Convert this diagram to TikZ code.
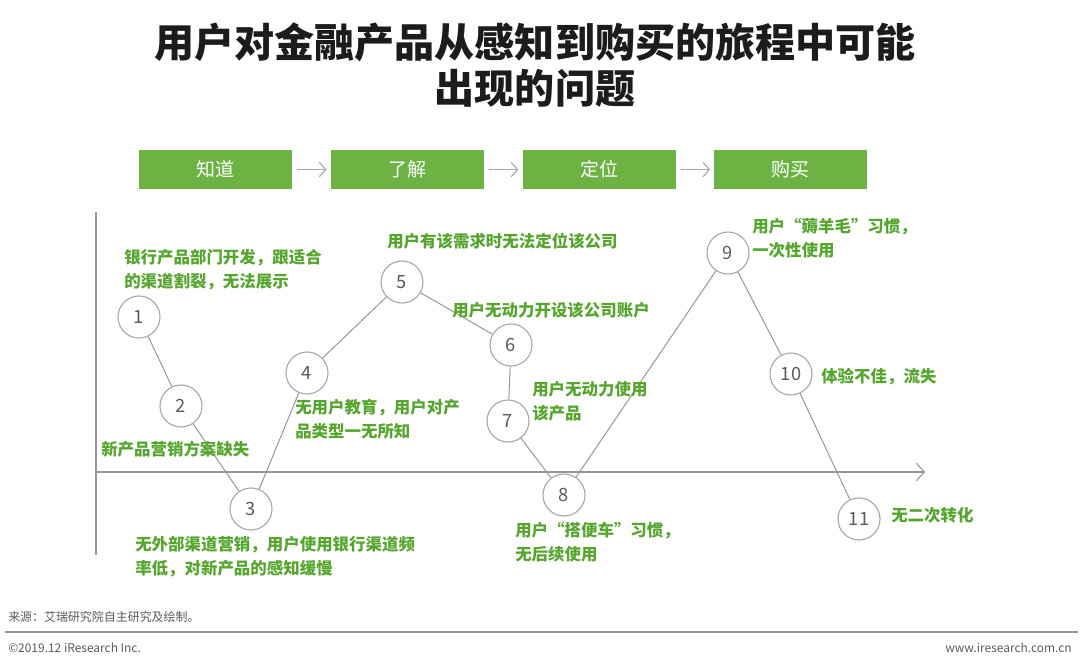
\documentclass[tikz,border=0pt]{standalone}
\usepackage{fontspec}
\setmainfont{Noto Sans CJK SC}
\usetikzlibrary{arrows.meta,positioning}
\definecolor{stageGreen}{RGB}{108,179,68}
\definecolor{noteGreen}{RGB}{86,165,46}
\definecolor{softLine}{RGB}{168,168,168}
\definecolor{axisLine}{RGB}{150,150,150}
\definecolor{mutedInk}{RGB}{90,90,90}
\definecolor{titleInk}{RGB}{28,28,28}
\tikzset{
  stagebox/.style={fill=stageGreen, text=white, minimum width=3.825cm, minimum height=0.975cm, inner sep=0pt, font=\fontsize{13.5}{16}\selectfont},
  stopcircle/.style={circle, draw=softLine, fill=white, line width=0.8pt, minimum size=1.05cm, inner sep=0pt, text=mutedInk, font=\fontsize{13}{15}\selectfont},
  note/.style={anchor=north west, inner sep=0pt, align=left, text=noteGreen, font=\fontsize{11.7}{17}\selectfont\bfseries},
  stagearrow/.style={-{Straight Barb[length=1.6mm,width=3.6mm]}, draw=softLine, line width=0.8pt, shorten <=0.12cm, shorten >=0.1cm},
  pathline/.style={draw=axisLine, line width=0.7pt},
  axis/.style={draw=axisLine, line width=0.8pt}
}
\begin{document}
\begin{tikzpicture}[x=0.025cm, y=-0.025cm]
  \useasboundingbox (0,0) rectangle (1080,664);
  % title
  \node[align=center, text=titleInk, font=\fontsize{28.5}{33}\selectfont\bfseries] (title) at (535,65)
    {用户对金融产品从感知到购买的旅程中可能\\出现的问题};
  % stages
  \node[stagebox] (know) at (215.5,169.5) {知道};
  \node[stagebox, right=0.955cm of know] (learn) {了解};
  \node[stagebox, right=0.955cm of learn] (locate) {定位};
  \node[stagebox, right=0.955cm of locate] (buy) {购买};
  \draw[stagearrow] (know) -- (learn);
  \draw[stagearrow] (learn) -- (locate);
  \draw[stagearrow] (locate) -- (buy);
  % axes
  \coordinate (ytop) at (96,212);
  \coordinate (ybot) at (96,555);
  \coordinate (xleft) at (96,472);
  \coordinate (xright) at (925,472);
  \draw[axis] (ytop) -- (ybot);
  \draw[axis, -{Straight Barb[length=2mm,width=4.4mm]}] (xleft) -- (xright);
  % journey points
  \node[stopcircle] (p1) at (139,317) {1};
  \node[stopcircle] (p2) at (181,406) {2};
  \node[stopcircle] (p3) at (251,509) {3};
  \node[stopcircle] (p4) at (307,373) {4};
  \node[stopcircle] (p5) at (402,282) {5};
  \node[stopcircle] (p6) at (511,345) {6};
  \node[stopcircle] (p7) at (508,421) {7};
  \node[stopcircle] (p8) at (564,495) {8};
  \node[stopcircle] (p9) at (728,253) {9};
  \node[stopcircle] (p10) at (791,374) {10};
  \node[stopcircle] (p11) at (859,519) {11};
  \draw[pathline] (p1) -- (p2) -- (p3) -- (p4) -- (p5) -- (p6) -- (p7) -- (p8) -- (p9) -- (p10) -- (p11);
  % notes
  \node[note] (n1) at (124,249) {银行产品部门开发，跟适合\\的渠道割裂，无法展示};
  \node[note] (n2) at (101,441) {新产品营销方案缺失};
  \node[note] (n3) at (135,536) {无外部渠道营销，用户使用银行渠道频\\率低，对新产品的感知缓慢};
  \node[note] (n4) at (295,399) {无用户教育，用户对产\\品类型一无所知};
  \node[note] (n5) at (387,233) {用户有该需求时无法定位该公司};
  \node[note] (n6) at (452,302) {用户无动力开设该公司账户};
  \node[note] (n7) at (532,381) {用户无动力使用\\该产品};
  \node[note] (n8) at (515,522) {用户“搭便车”习惯，\\无后续使用};
  \node[note] (n9) at (752,218) {用户“薅羊毛”习惯，\\一次性使用};
  \node[note] (n10) at (821,368) {体验不佳，流失};
  \node[note] (n11) at (891,507) {无二次转化};
  % footer
  \node[anchor=west, inner sep=0pt, text=mutedInk, font=\fontsize{8.5}{10}\selectfont] (source) at (8,617) {来源：艾瑞研究院自主研究及绘制。};
  \coordinate (ruleL) at (5,632);
  \coordinate (ruleR) at (1078,632);
  \draw[draw=axisLine, line width=1.2pt] (ruleL) -- (ruleR);
  \node[anchor=west, inner sep=0pt, text=mutedInk, font=\fontsize{8.5}{10}\selectfont] (copy) at (8,648) {©2019.12 iResearch Inc.};
  \node[anchor=east, inner sep=0pt, text=mutedInk, font=\fontsize{8.5}{10}\selectfont] (site) at (1072,648) {www.iresearch.com.cn};
\end{tikzpicture}
\end{document}
